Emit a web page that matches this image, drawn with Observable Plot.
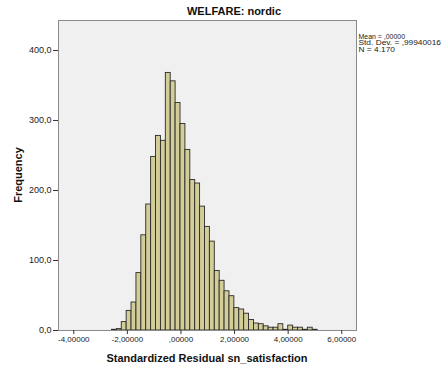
<!DOCTYPE html>
<html>
<head>
<meta charset="utf-8">
<script src="https://cdn.jsdelivr.net/npm/d3@7"></script>
<script src="https://cdn.jsdelivr.net/npm/@observablehq/plot@0.6"></script>
<style>
  html, body { margin: 0; padding: 0; background: #ffffff; }
  #chart { width: 446px; height: 372px; }
</style>
</head>
<body>
<div id="chart"></div>
<script>
// Histogram counts (42 bins)
const counts = [1, 2, 12, 28, 40, 82, 136, 180, 248, 278, 271, 368, 356, 325, 295, 258, 215, 210, 177, 148, 127, 85, 71, 56, 49, 32, 30, 24, 15, 10, 9, 6, 4, 4, 9, 1, 7, 4, 4, 1, 4, 1];
const binStart = -2.575;
const binWidth = 0.1827;

const xTicks = [-4, -2, 0, 2, 4, 6];
const xTickLabels = ["-4,00000", "-2,00000", ",00000", "2,00000", "4,00000", "6,00000"];
const yTicks = [0, 100, 200, 300, 400];
const yTickLabels = ["0,0", "100,0", "200,0", "300,0", "400,0"];

const titleText = "WELFARE: nordic";
const xTitle = "Standardized Residual sn_satisfaction";
const yTitle = "Frequency";
const statsLines = ["Mean = ,00000", "Std. Dev. = ,99940016", "N = 4.170"];
const statsWidths = [46.5, 82.5, 36.5];

const bins = counts.map((c, i) => ({
  x1: binStart + i * binWidth,
  x2: binStart + (i + 1) * binWidth,
  count: c
}));

const FONT = "'Liberation Sans', Arial, sans-serif";

const plot = Plot.plot({
  width: 446,
  height: 372,
  marginLeft: 58,
  marginRight: 90,
  marginTop: 20,
  marginBottom: 42,
  style: { fontFamily: FONT, background: "#ffffff", color: "#222" },
  x: { domain: [-4.57, 6.55] },
  y: { domain: [0, 442.9] },
  marks: [
    Plot.frame({ fill: "#f0f0f0", stroke: "none" }),
    Plot.rectY(bins, {
      x1: "x1", x2: "x2", y: "count",
      fill: "#d3ce97", stroke: "#2a2a2a", strokeWidth: 0.9
    }),
    Plot.frame({ stroke: "#8a8a8a", strokeWidth: 1 }),
    Plot.axisX({
      ticks: xTicks,
      tickFormat: (d) => xTickLabels[xTicks.indexOf(d)],
      tickSize: 4, tickPadding: 2, fontSize: 8, label: null, stroke: "#333"
    }),
    Plot.axisY({
      ticks: yTicks,
      tickFormat: (d) => yTickLabels[yTicks.indexOf(d)],
      tickSize: 5, tickPadding: 2, fontSize: 9, label: null, stroke: "#333"
    })
  ]
});

const svg = d3.select(plot);
svg.append("text")
  .attr("x", 234).attr("y", 15)
  .attr("text-anchor", "middle")
  .attr("font-family", FONT).attr("font-size", 11).attr("font-weight", "bold")
  .attr("fill", "#111")
  .text(titleText);

svg.append("text")
  .attr("x", 207).attr("y", 362)
  .attr("text-anchor", "middle")
  .attr("font-family", FONT).attr("font-size", 11).attr("font-weight", "bold")
  .attr("fill", "#111")
  .text(xTitle);

svg.append("text")
  .attr("transform", "translate(22,175) rotate(-90)")
  .attr("text-anchor", "middle")
  .attr("font-family", FONT).attr("font-size", 11).attr("font-weight", "bold")
  .attr("fill", "#111")
  .text(yTitle);

statsLines.forEach((s, i) => {
  svg.append("text")
    .attr("x", 358.5).attr("y", 39 + i * 6.3)
    .attr("text-anchor", "start")
    .attr("font-family", FONT).attr("font-size", 6.3)
    .attr("textLength", statsWidths[i])
    .attr("lengthAdjust", "spacingAndGlyphs")
    .attr("fill", "#222")
    .text(s);
});

document.getElementById("chart").appendChild(plot);
</script>
</body>
</html>
